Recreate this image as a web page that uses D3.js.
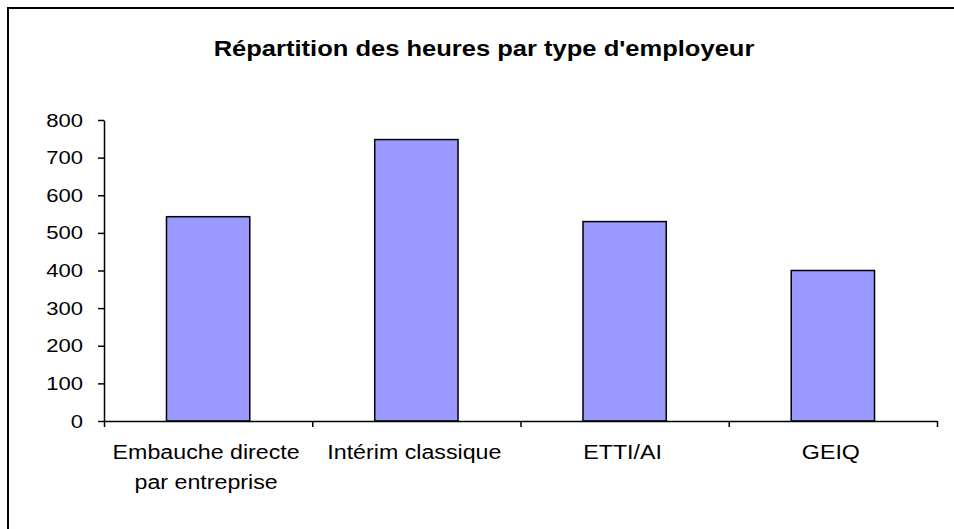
<!DOCTYPE html>
<html>
<head>
<meta charset="utf-8">
<script src="https://cdn.jsdelivr.net/npm/d3@7"></script>
<style>
  body { margin: 0; background: #fff; }
  text { font-family: "Liberation Sans", Arial, sans-serif; fill: #000; }
</style>
</head>
<body>
<svg id="chart"></svg>
<script>
// data
var categories = ["Embauche directe par entreprise", "Intérim classique", "ETTI/AI", "GEIQ"];
var labelLines = [["Embauche directe", "par entreprise"], ["Intérim classique"], ["ETTI/AI"], ["GEIQ"]];
var hours = [543, 748, 530, 400];
var yTicks = [0, 100, 200, 300, 400, 500, 600, 700, 800];
var title = "Répartition des heures par type d'employeur";

var w = 954, h = 529;
var plotLeft = 104, plotRight = 937, plotTop = 120, plotBottom = 421;
var squash = 1.16; // source picture is stretched sideways

var svg = d3.select("#chart").attr("width", w).attr("height", h);

// stretch text a bit, like the original
function stretch(sel) {
  sel.each(function() {
    var tl = this.getComputedTextLength();
    this.setAttribute("textLength", tl * squash);
    this.setAttribute("lengthAdjust", "spacingAndGlyphs");
  });
}

// outer frame (runs off the right and bottom)
svg.append("rect")
  .attr("x", 8).attr("y", 8)
  .attr("width", w + 20).attr("height", h + 20)
  .attr("fill", "none")
  .attr("stroke", "#000")
  .attr("stroke-width", 2);

svg.append("text")
  .attr("x", 484).attr("y", 56)
  .attr("text-anchor", "middle")
  .attr("font-size", 22)
  .attr("font-weight", "bold")
  .text(title)
  .call(stretch);

var x = d3.scaleBand()
  .domain(categories)
  .range([plotLeft, plotRight])
  .paddingInner(0.6)
  .paddingOuter(0.3);

var xEdge = d3.scaleLinear().domain([0, categories.length]).range([plotLeft, plotRight]);

var y = d3.scaleLinear().domain([0, 800]).range([plotBottom, plotTop]);

// bars
svg.selectAll(".bar")
  .data(hours)
  .enter()
  .append("rect")
  .attr("class", "bar")
  .attr("x", function(d, i) { return x(categories[i]); })
  .attr("y", function(d) { return y(d); })
  .attr("width", x.bandwidth())
  .attr("height", function(d) { return y(0) - y(d); })
  .attr("fill", "#9999ff")
  .attr("stroke", "#000")
  .attr("stroke-width", 1.5);

// y axis
var yAxis = svg.append("g")
  .attr("transform", "translate(" + plotLeft + ",0)")
  .call(d3.axisLeft(y).tickValues(yTicks).tickSize(6).tickSizeOuter(0).tickPadding(15));
yAxis.selectAll("path, line").attr("stroke", "#000").attr("stroke-width", 1.5);
yAxis.selectAll("text")
  .attr("font-size", 19)
  .attr("font-family", "Liberation Sans, Arial, sans-serif")
  .attr("fill", "#000")
  .call(stretch);

// x axis, ticks between categories
var xAxis = svg.append("g")
  .attr("transform", "translate(0," + plotBottom + ")")
  .call(d3.axisBottom(xEdge).tickValues(d3.range(categories.length + 1)).tickSize(6).tickSizeOuter(0).tickFormat(""));
xAxis.selectAll("path, line").attr("stroke", "#000").attr("stroke-width", 1.5);

// category labels
var lab = svg.selectAll(".xlab")
  .data(labelLines)
  .enter()
  .append("text")
  .attr("class", "xlab")
  .attr("text-anchor", "middle")
  .attr("font-size", 20)
  .attr("y", 459);
lab.each(function(lines, i) {
  var cx = x(categories[i]) + x.bandwidth() / 2;
  var t = d3.select(this);
  lines.forEach(function(s, k) {
    t.append("tspan")
      .attr("x", cx - 2)
      .attr("dy", k == 0 ? 0 : 30)
      .text(s);
  });
});
lab.selectAll("tspan").call(stretch);
</script>
</body>
</html>
